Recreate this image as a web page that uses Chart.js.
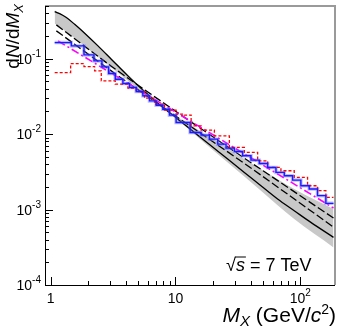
<!DOCTYPE html>
<html><head><meta charset="utf-8">
<script src="https://cdn.jsdelivr.net/npm/chart.js@4.4.0/dist/chart.umd.min.js"></script>
<style>html,body{margin:0;padding:0;background:#fff;overflow:hidden}canvas{display:block}</style>
</head><body>
<canvas id="c" width="349" height="328" style="width:349px;height:328px"></canvas>
<script>
// ---- data ----
const bandX     = [1.076, 1.463, 2.249, 3.675, 6.792, 14.19, 26.22, 48.45, 89.54, 184.8];
const bandSteep = [0.439, 0.317, 0.167, 0.0756, 0.0285, 0.0100, 0.00421, 0.00178, 0.000748, 0.000315];
const bandFlat  = [0.292, 0.201, 0.1147, 0.0605, 0.0271, 0.01226, 0.00646, 0.00344, 0.00187, 0.001015];

const solidX = [1.076, 1.180, 1.335, 1.556, 1.871, 2.391, 3.058, 4.156, 5.649, 7.68, 10.44, 14.19, 19.29, 26.22, 35.65, 48.45, 65.86, 89.54, 121.7, 184.8];
const solidY = [0.421, 0.396, 0.351, 0.286, 0.218, 0.148, 0.0985, 0.0592, 0.0367, 0.0237, 0.0158, 0.0105, 0.0070, 0.00467, 0.00311, 0.00207, 0.00138, 0.000965, 0.000676, 0.000428];

const dashX  = [1.110, 3.058, 10.44, 35.65, 184.8];
const dash1Y = [0.281, 0.0796, 0.0192, 0.00481, 0.000772];
const dash2Y = [0.234, 0.0690, 0.0166, 0.00409, 0.000586];

const magX = [1.145, 3.058, 10.44, 35.65, 184.8];
const magY = [0.172, 0.0643, 0.0188, 0.00549, 0.00105];

const blueEdges = [1.076, 1.463, 1.848, 2.222, 2.574, 2.911, 3.291, 3.790, 4.285, 4.846, 5.480, 6.194, 7.003, 7.919, 8.954, 10.12, 13.10, 16.05, 18.71, 21.82, 25.43, 29.65, 34.57, 40.31, 46.99, 54.80, 63.90, 74.47, 86.85, 101.2, 118.0, 137.6, 160.5, 184.8];
const blueVals  = [0.1637, 0.1479, 0.1124, 0.0936, 0.0780, 0.0636, 0.0535, 0.0469, 0.0415, 0.0367, 0.0322, 0.0276, 0.0242, 0.0214, 0.01785, 0.01427, 0.01052, 0.00970, 0.00859, 0.00737, 0.00652, 0.00589, 0.00516, 0.00452, 0.00409, 0.00362, 0.00311, 0.00281, 0.00246, 0.00207, 0.00187, 0.00153, 0.00121];

const redEdges = [1.076, 1.445, 1.848, 2.249, 2.543, 3.291, 4.156, 4.846, 5.649, 6.792, 8.166, 10.12, 11.80, 13.35, 16.05, 20.51, 27.04, 35.65, 45.57, 54.80, 70.04, 89.54, 114.5, 137.6, 160.5, 184.8];
const redVals  = [0.0656, 0.0863, 0.0788, 0.0690, 0.0509, 0.0460, 0.0407, 0.0367, 0.0300, 0.0250, 0.0208, 0.0184, 0.01785, 0.0129, 0.0113, 0.00950, 0.00666, 0.00572, 0.00443, 0.00362, 0.00327, 0.00267, 0.00207, 0.00178, 0.00145];

const xTickVals = [1, 10, 100];
const xTickBase = ['1', '10', '10'];
const xTickSup  = ['', '', '2'];
const yTickVals = [1e-4, 1e-3, 1e-2, 1e-1];
const yTickSup  = ['-4', '-3', '-2', '-1'];

// ---- helpers ----
const pts = (xs, ys) => xs.map((x, i) => ({x, y: ys[i]}));
const hist = (edges, vals) => edges.map((e, i) => ({x: e, y: vals[Math.min(i, vals.length - 1)]}));
const F = 'Liberation Sans, Arial, Helvetica, sans-serif';

function rich(ctx, segs, x, y, align) {
  let w = 0;
  segs.forEach(s => { ctx.font = s[1]; w += ctx.measureText(s[0]).width; });
  let cx = align === 'right' ? x - w : align === 'center' ? x - w / 2 : x;
  segs.forEach(s => { ctx.font = s[1]; ctx.fillText(s[0], cx, y + (s[2] || 0)); cx += ctx.measureText(s[0]).width; });
  return w;
}

const decor = {
  id: 'decor',
  afterDraw(chart) {
    const {ctx, chartArea: a, scales: {x, y}} = chart;
    ctx.save();
    // frame
    ctx.strokeStyle = '#9a9a9a'; ctx.lineWidth = 2;
    ctx.beginPath(); ctx.moveTo(a.left, a.top); ctx.lineTo(a.right, a.top); ctx.lineTo(a.right, a.bottom); ctx.stroke();
    ctx.strokeStyle = '#000'; ctx.lineWidth = 1;
    ctx.beginPath(); ctx.moveTo(a.left + 0.5, a.top); ctx.lineTo(a.left + 0.5, a.bottom + 0.5); ctx.lineTo(a.right, a.bottom + 0.5); ctx.stroke();
    // ticks (inside)
    ctx.beginPath();
    for (let d = -5; d <= 3; d++) {
      for (let k = 1; k <= 9; k++) {
        const v = k * Math.pow(10, d);
        const len = k === 1 ? 8 : 4;
        if (v >= x.min && v <= x.max) {
          const px = Math.round(x.getPixelForValue(v)) + 0.5;
          ctx.moveTo(px, a.bottom); ctx.lineTo(px, a.bottom - len);
        }
        if (v >= y.min && v <= y.max) {
          const py = Math.round(y.getPixelForValue(v)) + 0.5;
          ctx.moveTo(a.left, py); ctx.lineTo(a.left + len, py);
        }
      }
    }
    ctx.stroke();
    // tick labels
    ctx.fillStyle = '#000'; ctx.textBaseline = 'alphabetic'; ctx.textAlign = 'left';
    xTickVals.forEach((v, i) => {
      const px = x.getPixelForValue(v);
      const segs = [[xTickBase[i], '14px ' + F]];
      if (xTickSup[i]) segs.push([xTickSup[i], '10px ' + F, -7]);
      rich(ctx, segs, px, a.bottom + 18, 'center');
    });
    yTickVals.forEach((v, i) => {
      const py = y.getPixelForValue(v);
      rich(ctx, [['10', '14px ' + F], [yTickSup[i], '10px ' + F, -7]], a.left - 4, py + 5, 'right');
    });
    // x title
    rich(ctx, [['M', 'italic 21px ' + F], ['X', 'italic 15px ' + F, 4], [' (GeV/', '21px ' + F], ['c', 'italic 21px ' + F], ['2', '14px ' + F, -8], [')', '21px ' + F]], 336, 322, 'right');
    // y title
    ctx.save();
    ctx.translate(19, 4); ctx.rotate(-Math.PI / 2);
    rich(ctx, [['d', '19px ' + F], ['N', 'italic 19px ' + F], ['/d', '19px ' + F], ['M', 'italic 19px ' + F], ['X', 'italic 13px ' + F, 4]], 0, 0, 'right');
    ctx.restore();
    // sqrt(s) = 7 TeV
    const bx = 226, by = 271;
    ctx.font = '18px ' + F;
    ctx.fillText('\u221A', bx, by);
    const rw = ctx.measureText('\u221A').width;
    ctx.font = 'italic 18px ' + F;
    ctx.fillText('s', bx + rw, by);
    const sw = ctx.measureText('s').width;
    ctx.beginPath(); ctx.lineWidth = 1; ctx.moveTo(bx + rw - 1, by - 14); ctx.lineTo(bx + rw + sw + 1, by - 14); ctx.stroke();
    ctx.font = '18px ' + F;
    ctx.fillText(' = 7 TeV', bx + rw + sw, by);
    ctx.restore();
  }
};

const line = (data, color, extra) => Object.assign({data, borderColor: color, borderWidth: 1.3, pointRadius: 0, fill: false, tension: 0}, extra || {});

new Chart(document.getElementById('c'), {
  type: 'line',
  data: {
    datasets: [
      line(hist(blueEdges, blueVals), '#1a1aff', {stepped: 'before', borderWidth: 1.4}),
      line(hist(redEdges, redVals), '#ff0000', {stepped: 'before', borderDash: [3, 2], borderWidth: 1.3}),
      line(hist(blueEdges, blueVals), 'rgba(110,110,255,0.45)', {stepped: 'before', borderWidth: 3.5}),
      line(pts(magX, magY), '#ff00ff', {borderDash: [8, 3, 2, 3], borderWidth: 1.6}),
      line(pts(dashX, dash1Y), '#000', {borderDash: [8, 3], cubicInterpolationMode: 'monotone', tension: 0.4}),
      line(pts(dashX, dash2Y), '#000', {borderDash: [8, 3], cubicInterpolationMode: 'monotone', tension: 0.4}),
      line(pts(solidX, solidY), '#000', {cubicInterpolationMode: 'monotone', tension: 0.4}),
      line(pts(bandX, bandFlat), 'rgba(0,0,0,0)', {borderWidth: 0, fill: 8, backgroundColor: '#c8c8c8', cubicInterpolationMode: 'monotone', tension: 0.4}),
      line(pts(bandX, bandSteep), 'rgba(0,0,0,0)', {borderWidth: 0, cubicInterpolationMode: 'monotone', tension: 0.4})
    ]
  },
  options: {
    responsive: false, animation: false, devicePixelRatio: 1,
    layout: {padding: {top: 6, right: 14, left: 0, bottom: 0}},
    plugins: {legend: {display: false}, tooltip: {enabled: false}},
    events: [],
    scales: {
      x: {type: 'logarithmic', min: 0.9, max: 190, grid: {display: false}, border: {display: false}, ticks: {display: false},
          afterFit(s) { s.height = 43; s.paddingLeft = 0; s.paddingRight = 0; }},
      y: {type: 'logarithmic', min: 1e-4, max: 0.5, grid: {display: false}, border: {display: false}, ticks: {display: false},
          afterFit(s) { s.width = 45; s.paddingTop = 0; s.paddingBottom = 0; }}
    }
  },
  plugins: [decor]
});
</script>
</body></html>
